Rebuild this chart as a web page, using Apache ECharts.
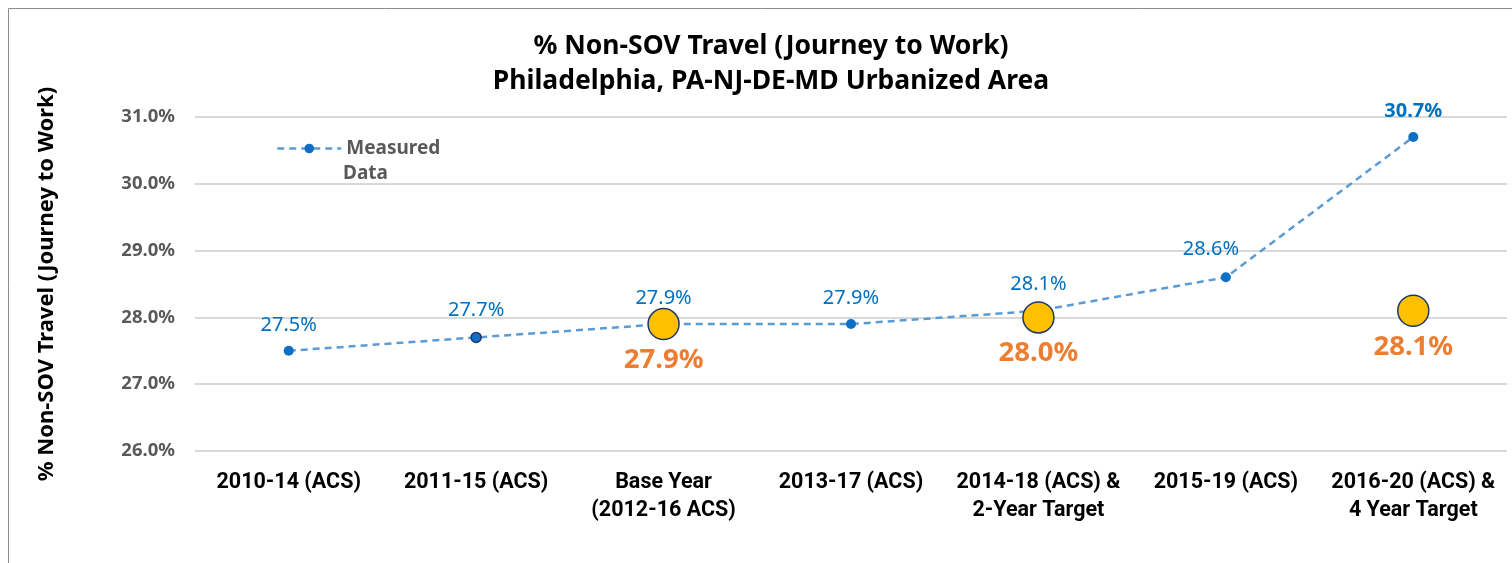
<!DOCTYPE html>
<html><head><meta charset="utf-8">
<script src="https://cdn.jsdelivr.net/npm/echarts@6/dist/echarts.min.js"></script>
<style>html,body{margin:0;padding:0;background:#fff}#c{width:1512px;height:563px}</style>
</head><body><div id="c"></div>
<script>
const categories = ['2010-14 (ACS)', '2011-15 (ACS)', 'Base Year\n(2012-16 ACS)', '2013-17 (ACS)', '2014-18 (ACS) &\n2-Year Target', '2015-19 (ACS)', '2016-20 (ACS) &\n4 Year Target'];
const measured = [27.5, 27.7, 27.9, 27.9, 28.1, 28.6, 30.7];
const targets = [null, null, 27.9, null, 28.0, null, 28.1];
const yTicks = [26, 27, 28, 29, 30, 31];

const chart = echarts.init(document.getElementById('c'));
const fontLbl = '"Roboto", sans-serif';
const fontMain = '"Noto Sans", "Open Sans", sans-serif';

const measuredData = measured.map((v, i) => {
  const item = { value: v };
  if (i === measured.length - 1) item.label = { fontWeight: 'bold' };
  if (i === 5) item.label = { offset: [-15, -2] };
  if (i === 1) item.itemStyle = { borderColor: '#1F3864', borderWidth: 1.5 };
  return item;
});

chart.setOption({
  animation: false,
  title: {
    text: '% Non-SOV Travel (Journey to Work)\nPhiladelphia, PA-NJ-DE-MD Urbanized Area',
    left: 766, top: 24, textAlign: 'center',
    textStyle: { fontFamily: fontMain, fontSize: 26.5, fontWeight: 'bold', color: '#000', lineHeight: 35 }
  },
  graphic: [
    { type: 'rect', shape: { x: 8.5, y: 8.5, width: 1520, height: 600 },
      style: { fill: 'none', stroke: '#8c8c8c', lineWidth: 1 }, silent: true },
    { type: 'text', left: 343, top: 164,
      style: { text: 'Data', fontFamily: fontMain, fontSize: 19, fontWeight: 'bold', fill: '#595959' }, silent: true }
  ],
  legend: {
    data: ['Measured Data'], left: 271, top: 131, itemWidth: 64, itemHeight: 12, itemGap: 4,
    formatter: () => 'Measured',
    lineStyle: { width: 2.5, type: [7, 5], color: '#5B9BD5' },
    textStyle: { fontFamily: fontMain, fontSize: 19, fontWeight: 'bold', color: '#595959', lineHeight: 25 }
  },
  grid: { left: 195, right: 5, top: 117, bottom: 112, containLabel: false },
  xAxis: {
    type: 'category', data: categories, boundaryGap: true,
    axisLine: { show: false }, axisTick: { show: false },
    axisLabel: { fontFamily: fontLbl, fontSize: 21.5, fontWeight: 'bold', color: '#000', margin: 18, lineHeight: 28, interval: 0 }
  },
  yAxis: {
    type: 'value', min: yTicks[0], max: yTicks[yTicks.length - 1], interval: 1,
    name: '% Non-SOV Travel (Journey to Work)', nameLocation: 'middle', nameGap: 137, nameRotate: 90,
    nameTextStyle: { fontFamily: fontMain, fontSize: 22, fontWeight: 'bold', color: '#000' },
    axisLine: { show: false }, axisTick: { show: false },
    axisLabel: { fontFamily: fontMain, fontSize: 18.5, fontWeight: 'bold', color: '#595959', margin: 20,
      formatter: v => v.toFixed(1) + '%' },
    splitLine: { lineStyle: { color: '#d9d9d9', width: 2 } }
  },
  series: [
    {
      name: 'Measured Data', type: 'line', data: measuredData, z: 3,
      symbol: 'circle', symbolSize: 10,
      itemStyle: { color: '#0F6FC6' },
      lineStyle: { color: '#5B9BD5', width: 2.5, type: [7, 5] },
      label: { show: true, position: 'top', distance: 11, fontFamily: fontMain, fontSize: 20, color: '#0070C0',
        formatter: p => p.value.toFixed(1) + '%' }
    },
    {
      name: 'Target', type: 'scatter', z: 4,
      data: targets.map(v => v === null ? '-' : v),
      symbol: 'circle', symbolSize: 31,
      itemStyle: { color: '#FFC000', borderColor: '#1F3864', borderWidth: 1.5, opacity: 1 },
      label: { show: true, position: 'bottom', distance: 6, fontFamily: fontMain, fontSize: 27.5, fontWeight: 'bold', color: '#ED7D31',
        formatter: p => Number(p.value).toFixed(1) + '%' }
    }
  ]
});
</script></body></html>
